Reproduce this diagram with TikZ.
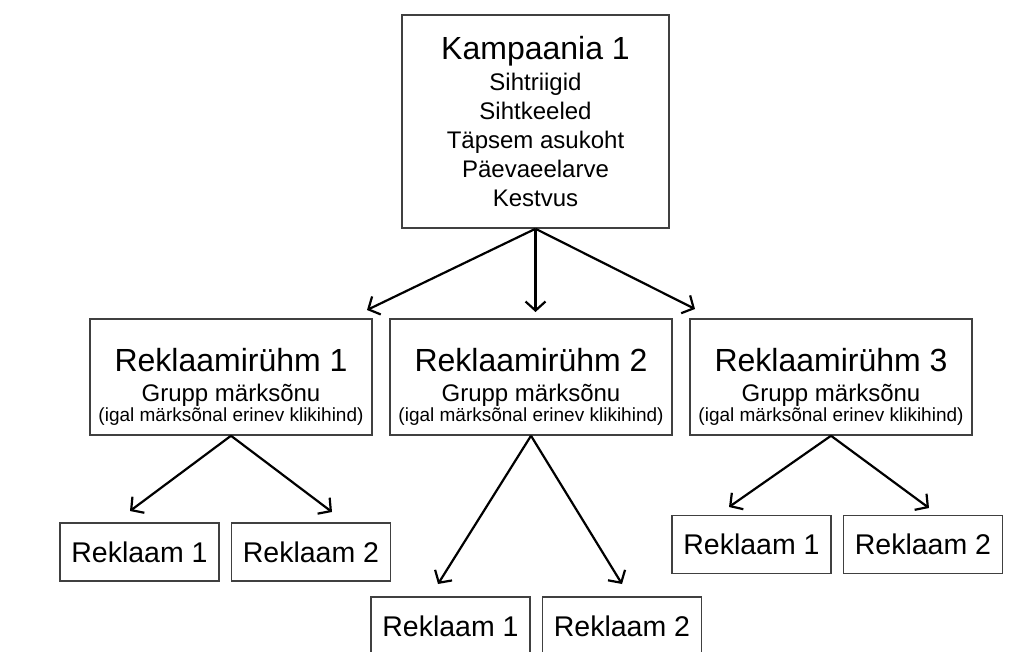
\documentclass[tikz,border=0pt]{standalone}
\usepackage{fontspec}
\setmainfont{Liberation Sans}
\usetikzlibrary{arrows.meta}
\tikzset{kbox/.style={draw=black!75, line width=1.5pt, inner sep=0pt},
  grpbox/.style={kbox, minimum width=282pt, minimum height=116pt},
  grptext/.style={align=center, inner sep=0pt, font=\fontsize{24}{24}\selectfont},
  adbox/.style={kbox, minimum width=159pt, minimum height=58pt, font=\fontsize{28.5}{30}\selectfont},
  arr/.style={-{Straight Barb[length=9pt,width=20pt]}, line width=2.2pt}}

\begin{document}
\begin{tikzpicture}[x=1pt,y=-1pt]
  \useasboundingbox (0,0) rectangle (1035,652);
  \node[kbox, minimum width=267pt, minimum height=213pt, align=center,
        font=\fontsize{24}{29}\selectfont] (kamp) at (535.5,121.5)
    {{\fontsize{32}{33}\selectfont Kampaania 1}\\[2pt] Sihtriigid\\ Sihtkeeled\\
     Täpsem asukoht\\ Päevaeelarve\\ Kestvus};

  \node[grpbox] (g1) at (231,377) {};
  \node[grpbox] (g2) at (531,377) {};
  \node[grpbox] (g3) at (831,377) {};
  \node[grptext] (g1txt) at (231,387)
    {{\fontsize{32}{30}\selectfont Reklaamirühm 1}\\[6pt] Grupp märksõnu\\[-4pt]
     {\fontsize{19}{19}\selectfont (igal märksõnal erinev klikihind)}};
  \node[grptext] (g2txt) at (531,387)
    {{\fontsize{32}{30}\selectfont Reklaamirühm 2}\\[6pt] Grupp märksõnu\\[-4pt]
     {\fontsize{19}{19}\selectfont (igal märksõnal erinev klikihind)}};
  \node[grptext] (g3txt) at (831,387)
    {{\fontsize{32}{30}\selectfont Reklaamirühm 3}\\[6pt] Grupp märksõnu\\[-4pt]
     {\fontsize{19}{19}\selectfont (igal märksõnal erinev klikihind)}};

  \node[adbox] (r11) at (139.5,552) {Reklaam 1};
  \node[adbox] (r12) at (311,552) {Reklaam 2};
  \node[adbox] (r21) at (450.5,626) {Reklaam 1};
  \node[adbox] (r22) at (622,626) {Reklaam 2};
  \node[adbox] (r31) at (751.5,544.5) {Reklaam 1};
  \node[adbox] (r32) at (923,544.5) {Reklaam 2};

  \coordinate (t1) at (367,310);
  \coordinate (t2) at (535.5,312);
  \coordinate (t3) at (695,309);
  \coordinate (t11) at (130,511);
  \coordinate (t12) at (332,512);
  \coordinate (t21) at (438,584);
  \coordinate (t22) at (622,584);
  \coordinate (t31) at (729,507);
  \coordinate (t32) at (929,508);

  \draw[arr] (kamp.south) -- (t1);
  \draw[arr] (kamp.south) -- (t2);
  \draw[arr] (kamp.south) -- (t3);
  \draw[arr] (g1.south) -- (t11);
  \draw[arr] (g1.south) -- (t12);
  \draw[arr] (g2.south) -- (t21);
  \draw[arr] (g2.south) -- (t22);
  \draw[arr] (g3.south) -- (t31);
  \draw[arr] (g3.south) -- (t32);
\end{tikzpicture}
\end{document}
